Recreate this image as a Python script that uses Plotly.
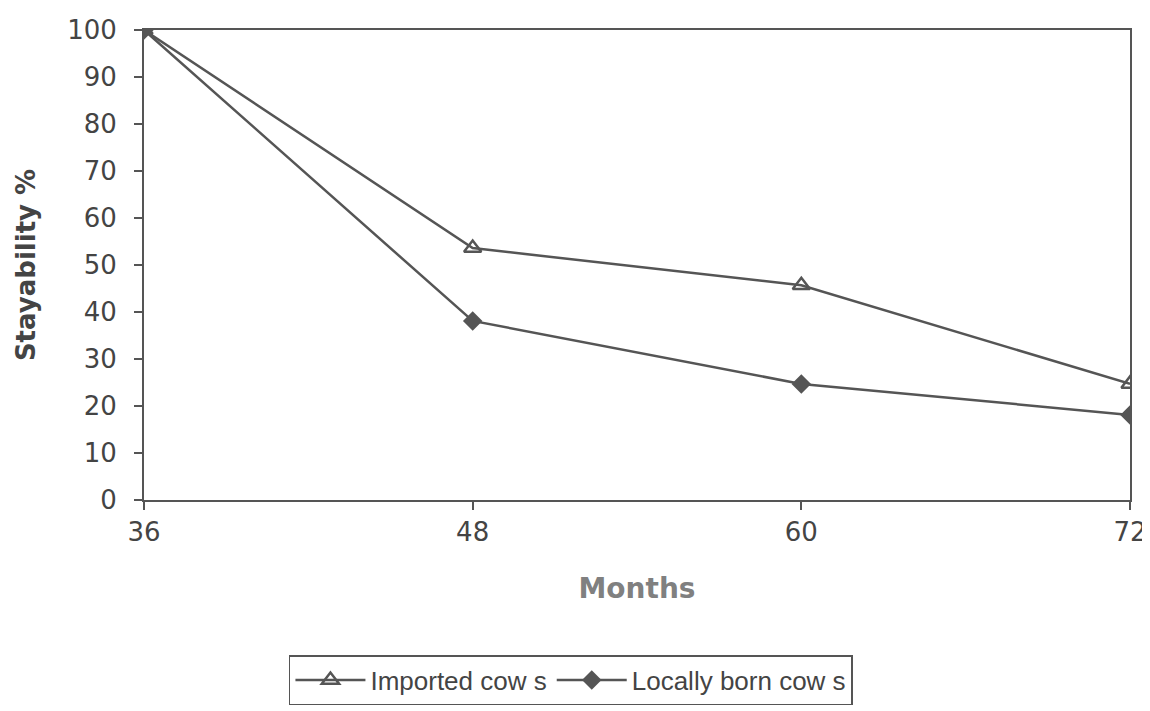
import plotly.graph_objects as go

months = [36, 48, 60, 72]
imported = [100, 53.6, 45.7, 24.7]
locally = [100, 38.1, 24.7, 18.1]
y_ticks = [0, 10, 20, 30, 40, 50, 60, 70, 80, 90, 100]

line_col = "#555555"
text_col = "#444444"

fig = go.Figure()
fig.add_trace(go.Scatter(
    x=months, y=imported, name="Imported cow s", mode="lines+markers",
    line=dict(color=line_col, width=2.5),
    marker=dict(symbol="triangle-up-open", size=15, color=line_col, line=dict(width=2.5, color=line_col)),
))
fig.add_trace(go.Scatter(
    x=months, y=locally, name="Locally born cow s", mode="lines+markers",
    line=dict(color=line_col, width=2.5),
    marker=dict(symbol="diamond", size=15, color=line_col),
))

fig.update_layout(
    width=1150, height=703,
    margin=dict(l=136, r=28, t=22, b=211, autoexpand=False),
    paper_bgcolor="white", plot_bgcolor="white",
    font=dict(family="DejaVu Sans, sans-serif", size=24, color=text_col),
    showlegend=True,
    legend=dict(
        orientation="h", x=0.433, xanchor="center", y=-0.33, yanchor="top",
        bordercolor="#555555", borderwidth=1.5,
        font=dict(family="Liberation Sans, Arial, sans-serif", size=26, color=text_col),
        itemwidth=70, tracegroupgap=0,
    ),
)
fig.update_xaxes(
    range=[36, 72], tickvals=months, ticktext=[str(m) for m in months],
    showline=True, linecolor=line_col, linewidth=2, mirror=True,
    ticks="outside", ticklen=8, tickcolor=line_col, tickwidth=2,
    showgrid=False, zeroline=False,
    tickfont=dict(family="DejaVu Sans, sans-serif", size=26, color=text_col),
    title=dict(text="<b>Months</b>", font=dict(family="DejaVu Sans, sans-serif", size=28, color="#808080"), standoff=32),
)
fig.update_yaxes(
    range=[0, 100], tickvals=y_ticks,
    showline=True, linecolor=line_col, linewidth=2, mirror=True,
    ticks="outside", ticklen=8, tickcolor=line_col, tickwidth=2,
    showgrid=False, zeroline=False, ticklabelstandoff=12,
    tickfont=dict(family="DejaVu Sans, sans-serif", size=26, color=text_col),
    title=dict(text="<b>Stayability %</b>", font=dict(family="DejaVu Sans, sans-serif", size=26, color=text_col), standoff=24),
)

fig.write_html("out.html")
